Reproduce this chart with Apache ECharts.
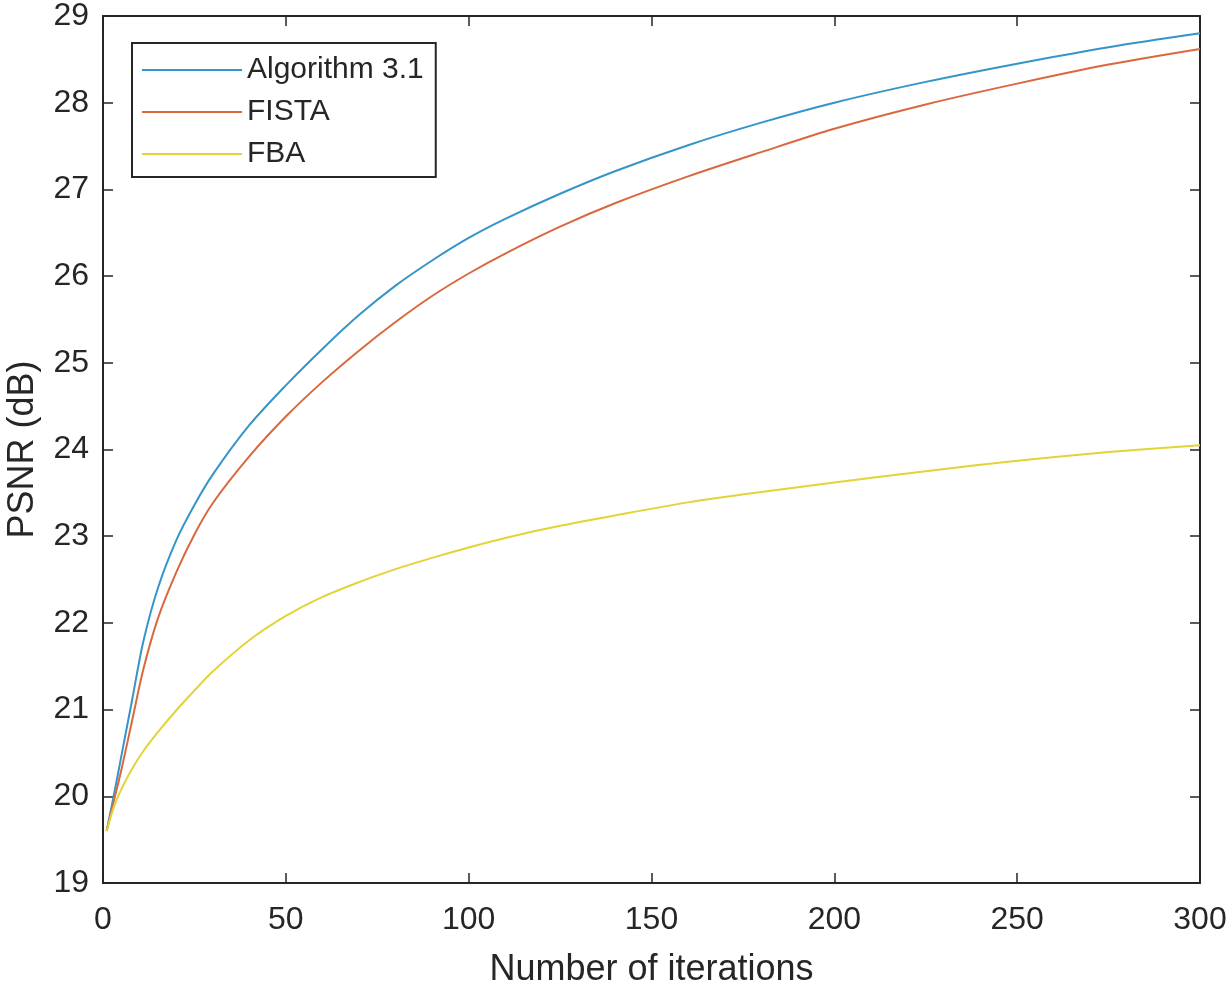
<!DOCTYPE html>
<html>
<head>
<meta charset="utf-8">
<script src="https://cdn.jsdelivr.net/npm/echarts@6/dist/echarts.min.js"></script>
<style>
  html, body { margin: 0; padding: 0; background: #fff; }
  #chart { width: 1229px; height: 990px; }
</style>
</head>
<body>
<div id="chart"></div>
<script>
const iters = [1, 3, 5, 8, 11, 15, 20, 25, 30, 40, 50, 60, 70, 80, 90, 100, 110, 125, 140, 160, 180, 200, 225, 250, 275, 300]

const alg31 = [19.6, 20.02, 20.46, 21.12, 21.78, 22.4, 22.95, 23.36, 23.71, 24.28, 24.74, 25.16, 25.55, 25.89, 26.18, 26.44, 26.66, 26.95, 27.21, 27.51, 27.77, 28.0, 28.24, 28.45, 28.64, 28.8]
const fista = [19.6, 19.95, 20.3, 20.88, 21.46, 22.05, 22.58, 23.02, 23.38, 23.92, 24.38, 24.78, 25.14, 25.47, 25.77, 26.03, 26.26, 26.57, 26.84, 27.15, 27.43, 27.7, 27.98, 28.22, 28.44, 28.62]
const fba = [19.6, 19.88, 20.08, 20.32, 20.52, 20.74, 20.99, 21.22, 21.44, 21.8, 22.08, 22.3, 22.47, 22.62, 22.75, 22.87, 22.98, 23.12, 23.24, 23.39, 23.51, 23.62, 23.75, 23.87, 23.97, 24.05]

const seriesNames = ['Algorithm 3.1', 'FISTA', 'FBA']
const xTicks = { min: 0, max: 300, step: 50 }
const yTicks = { min: 19, max: 29, step: 1 }

const pairs = (ys) => iters.map((x, i) => [x, ys[i]])

const chart = echarts.init(document.getElementById('chart'))
const font = '"Liberation Sans", Arial, sans-serif'
const ink = '#262626'

const axisCommon = {
  axisLine: { show: true, onZero: false, lineStyle: { color: ink, width: 2 } },
  axisTick: { show: true, inside: true, length: 10, lineStyle: { color: ink, width: 1.5 } },
  splitLine: { show: false },
}

const option = {
  animation: false,
  color: ['#3595c8', '#d9683e', '#e2d437'],
  textStyle: { fontFamily: font },
  grid: { left: 103, right: 29, top: 16, bottom: 107, outerBoundsMode: 'none' },
  legend: {
    orient: 'vertical',
    left: 132,
    top: 43,
    padding: [12, 12, 8, 10],
    icon: 'rect',
    itemWidth: 100,
    itemHeight: 2,
    itemGap: 12,
    borderColor: ink,
    borderWidth: 2,
    backgroundColor: '#fff',
    textStyle: { fontSize: 30, lineHeight: 30, color: ink, fontFamily: font },
    data: seriesNames,
  },
  xAxis: [
    {
      type: 'value',
      min: xTicks.min,
      max: xTicks.max,
      interval: xTicks.step,
      name: 'Number of iterations',
      nameLocation: 'middle',
      nameGap: 69,
      nameTextStyle: { fontSize: 36, color: ink, fontFamily: font },
      axisLabel: { fontSize: 32, color: ink, margin: 21, fontFamily: font },
      ...axisCommon,
    },
    {
      type: 'value',
      position: 'top',
      min: xTicks.min,
      max: xTicks.max,
      interval: xTicks.step,
      axisLabel: { show: false },
      ...axisCommon,
    },
  ],
  yAxis: [
    {
      type: 'value',
      min: yTicks.min,
      max: yTicks.max,
      interval: yTicks.step,
      name: 'PSNR (dB)',
      nameLocation: 'middle',
      nameGap: 62,
      nameTextStyle: { fontSize: 36, color: ink, fontFamily: font },
      axisLabel: { fontSize: 32, color: ink, margin: 14, fontFamily: font },
      ...axisCommon,
    },
    {
      type: 'value',
      position: 'right',
      min: yTicks.min,
      max: yTicks.max,
      interval: yTicks.step,
      axisLabel: { show: false },
      ...axisCommon,
    },
  ],
  series: [
    { name: seriesNames[0], type: 'line', data: pairs(alg31) },
    { name: seriesNames[1], type: 'line', data: pairs(fista) },
    { name: seriesNames[2], type: 'line', data: pairs(fba) },
  ].map(s => ({ ...s, smooth: 0.3, symbol: 'none', lineStyle: { width: 2 } })),
}

option && chart.setOption(option)
</script>
</body>
</html>
